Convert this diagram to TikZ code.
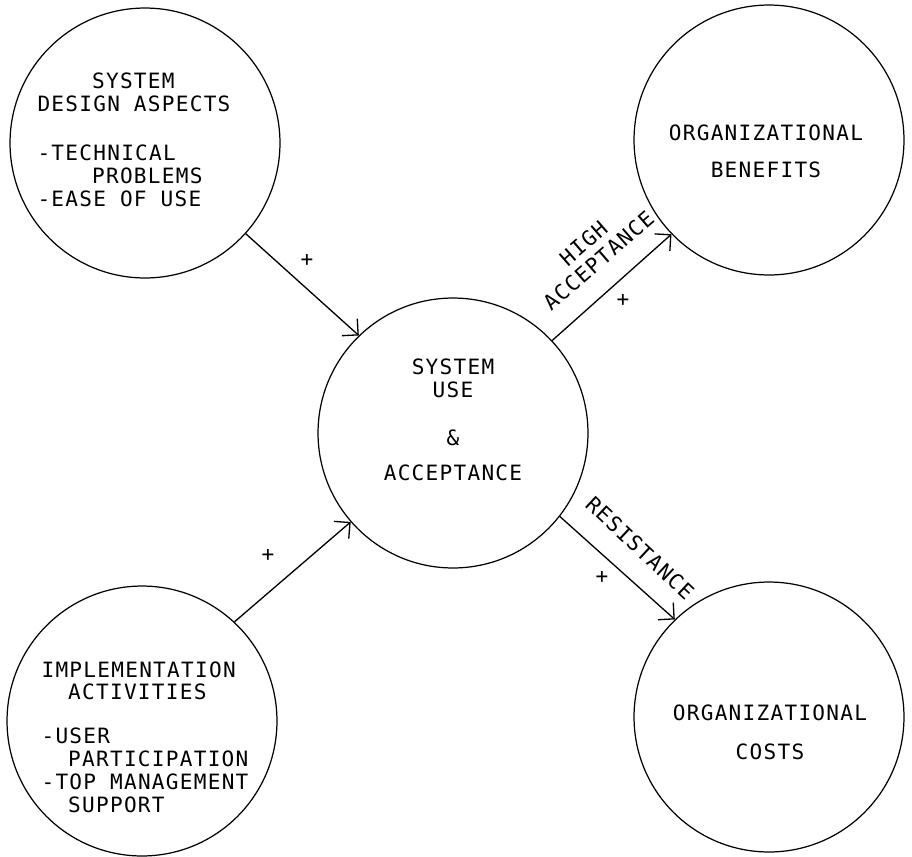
\documentclass[tikz,border=0pt]{standalone}
\usepackage{fontspec}
\setmainfont{DejaVu Sans Mono}[LetterSpace=6]
\usetikzlibrary{arrows.meta}

\tikzset{
    blob/.style={draw, circle, line width=0.7pt, minimum size=5.4cm, inner sep=0cm},
    words/.style={align=left, font=\fontsize{12}{13}\selectfont, inner sep=0cm},
    flow/.style={->, >={Straight Barb[length=6.5pt, width=13pt]}, line width=0.75pt}
}

\begin{document}
\begin{tikzpicture}[x=0.02cm, y=-0.02cm]
    \useasboundingbox (0,0) rectangle (912,856);

    % the five circles
    \node[blob] (design) at (145,143) {};
    \node[blob] (benefits) at (769,140) {};
    \node[blob] (use) at (453,433) {};
    \node[blob] (activities) at (142,721) {};
    \node[blob] (costs) at (769,717) {};

    % texts inside
    \node[words] (design text) at (134,139.5) {\phantom{0000}SYSTEM\\DESIGN ASPECTS\\[15pt]-TECHNICAL\\\phantom{0000}PROBLEMS\\-EASE OF USE};
    \node[words, align=center] (benefits text) at (766,151) {ORGANIZATIONAL\\[8pt]BENEFITS};
    \node[words, align=center] (use text) at (453,420) {SYSTEM\\USE\\[14pt]\&\\[7pt]ACCEPTANCE};
    \node[words] (activities text) at (145,737) {IMPLEMENTATION\\\phantom{00}ACTIVITIES\\[12pt]-USER\\\phantom{00}PARTICIPATION\\-TOP MANAGEMENT\\\phantom{00}SUPPORT};
    \node[words, align=center] (costs text) at (770,732) {ORGANIZATIONAL\\[9pt]COSTS};

    % arrows
    \draw[flow] (design.-42) -- (use.134);
    \draw[flow] (activities.47) -- (use.221);
    \draw[flow] (use.43) -- (benefits.224);
    \draw[flow] (use.-38) -- (costs.134);

    % arrow labels
    \node[words] (plus design) at (307,260) {+};
    \node[words] (plus activities) at (268,555) {+};
    \node[words] (plus benefits) at (623,300) {+};
    \node[words] (plus costs) at (602,577) {+};
    \node[words, align=center, rotate=41] (high) at (591,252) {HIGH\\ACCEPTANCE};
    \node[words, rotate=-43] (resist) at (640,548) {RESISTANCE};
\end{tikzpicture}
\end{document}
